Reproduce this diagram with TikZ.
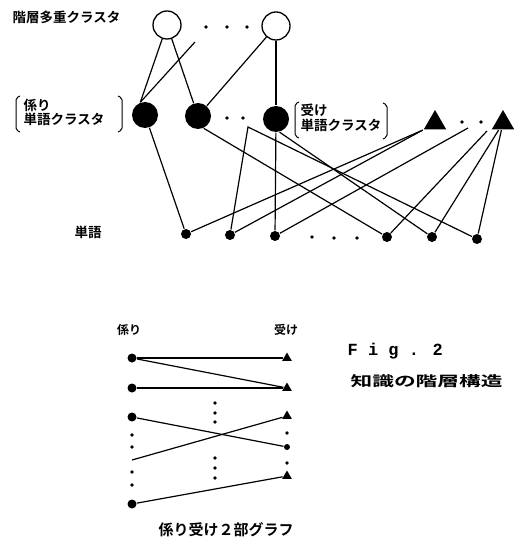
\documentclass[tikz,border=0pt]{standalone}
\usepackage{fontspec}
\newfontfamily\jp{Noto Sans CJK JP Bold}
\newfontfamily\mono{Liberation Mono Bold}
\usetikzlibrary{shapes.geometric}
\begin{document}
\begin{tikzpicture}[x=1pt,y=-1pt,line width=1.2pt,
  opencl/.style={circle,draw,fill=white,minimum size=28pt,inner sep=0pt,line width=1.3pt},
  clus/.style={circle,fill=black,minimum size=26pt,inner sep=0pt},
  tri/.style={regular polygon,regular polygon sides=3,fill=black,minimum size=26pt,inner sep=0pt},
  word/.style={circle,fill=black,minimum size=10pt,inner sep=0pt},
  dotn/.style={circle,fill=black,minimum size=3.6pt,inner sep=0pt},
  lnode/.style={circle,fill=black,minimum size=9pt,inner sep=0pt},
  rtri/.style={regular polygon,regular polygon sides=3,fill=black,minimum size=11pt,inner sep=0pt},
  rdot/.style={circle,fill=black,minimum size=6pt,inner sep=0pt},
  lab/.style={font=\jp\fontsize{13.5}{16}\selectfont,inner sep=0pt},
  brk/.style={line width=1pt,rounded corners=2pt}]
\useasboundingbox (0,0) rectangle (517,537);
% labels
\node[lab,anchor=west] (tmulti) at (12,17) {階層多重クラスタ};
\node[lab,anchor=west] (tkak) at (23,105) {係り};
\node[lab,anchor=west] (tkak2) at (23,119) {単語クラスタ};
\node[lab,anchor=west] (tuke) at (300,110) {受け};
\node[lab,anchor=west] (tuke2) at (300,125) {単語クラスタ};
\node[lab,anchor=west] (tword) at (74,232) {単語};
\draw[brk] (20,96) -- (16,98) -- (16,130) -- (20,132);
\draw[brk] (118,96) -- (122,98) -- (122,130) -- (118,132);
\draw[brk] (299,102) -- (295,104) -- (295,136) -- (299,138);
\draw[brk] (383,103) -- (387,105) -- (387,137) -- (383,139);
% top clusters
\node[opencl] (o1) at (167,25) {};
\node[opencl] (o2) at (276,26) {};
\node[dotn] (d1) at (206,27) {};
\node[dotn] (d2) at (227,27) {};
\node[dotn] (d3) at (247,27) {};
% word clusters
\node[clus] (c1) at (145,115) {};
\node[clus] (c2) at (198,116) {};
\node[clus] (c3) at (276,119) {};
\node[dotn] (d4) at (227,118) {};
\node[dotn] (d5) at (243,118) {};
\node[tri] (t1) at (435,123) {};
\node[tri] (t2) at (503,123) {};
\node[dotn] (d6) at (462,122) {};
\node[dotn] (d7) at (481,122) {};
% words
\node[word] (w1) at (186,234) {};
\node[word] (w2) at (230,235) {};
\node[word] (w3) at (275,236) {};
\node[dotn] (d8) at (312,237) {};
\node[dotn] (d9) at (334,238) {};
\node[dotn] (d10) at (357,238) {};
\node[word] (w4) at (387,237) {};
\node[word] (w5) at (432,237) {};
\node[word] (w6) at (477,239) {};
% hidden ends
\coordinate (hT) at (195,42);
\coordinate (hA) at (248,127);
\coordinate (hB) at (468,128);
\coordinate (hC) at (487,131);
% top edges
\draw (o1) -- (c1.110);
\draw (o1) -- (c2);
\draw (c1.110) -- (hT);
\draw (o2) -- (c2);
\draw (o2) -- (c3);
% lower edges
\draw (c1) -- (w1);
\draw (c2.-65) -- (w4);
\draw (w2) -- (hA) -- (w6);
\draw (c3) -- (w3);
\draw (c3.-75) -- (w5);
\draw (w1) -- (t1.corner 2);
\draw (w2) -- (t1.corner 2);
\draw (w3) -- (hB);
\draw (w4) -- (hC);
\draw (w5) -- (t2);
\draw (w6) -- (t2);
% bipartite graph
\node[lab,font=\jp\fontsize{12}{14}\selectfont] (bk) at (129,330) {係り};
\node[lab,font=\jp\fontsize{12}{14}\selectfont] (bu) at (286,330) {受け};
\node[lnode] (L1) at (132,358) {};
\node[lnode] (L2) at (132,388) {};
\node[lnode] (L3) at (132,417) {};
\node[lnode] (L4) at (132,504) {};
\coordinate (Lf) at (132,460);
\node[dotn] (ld1) at (132,435) {};
\node[dotn] (ld2) at (132,447) {};
\node[dotn] (ld3) at (132,472) {};
\node[dotn] (ld4) at (132,485) {};
\node[rtri] (R1) at (287,358) {};
\node[rtri] (R2) at (287,388) {};
\node[rtri] (R3) at (287,416) {};
\node[rtri] (R4) at (287,476) {};
\node[rdot] (Rd) at (287,447) {};
\node[dotn] (rd1) at (287,433) {};
\node[dotn] (rd2) at (287,463) {};
\node[dotn] (m1) at (215,403) {};
\node[dotn] (m2) at (215,413) {};
\node[dotn] (m3) at (215,422) {};
\node[dotn] (m4) at (215,458) {};
\node[dotn] (m5) at (215,468) {};
\node[dotn] (m6) at (215,478) {};
\draw (L1) -- (R1);
\draw (L1) -- (R2);
\draw (L2) -- (R2);
\draw (L3) -- (Rd);
\draw (Lf) -- (R3);
\draw (L4) -- (R4);
\node[lab,font=\jp\fontsize{15}{17}\selectfont] (cap) at (226,530) {係り受け２部グラフ};
% figure title
\node[anchor=west,inner sep=0pt,font=\mono\fontsize{17}{19}\selectfont] (fig) at (347,351) {F i g . 2};
\node[anchor=west,inner sep=0pt,font=\jp\fontsize{14}{16}\selectfont] (ftitle) at (350,381) {\scalebox{1.55}[1]{知識の階層構造}};
\end{tikzpicture}
\end{document}
